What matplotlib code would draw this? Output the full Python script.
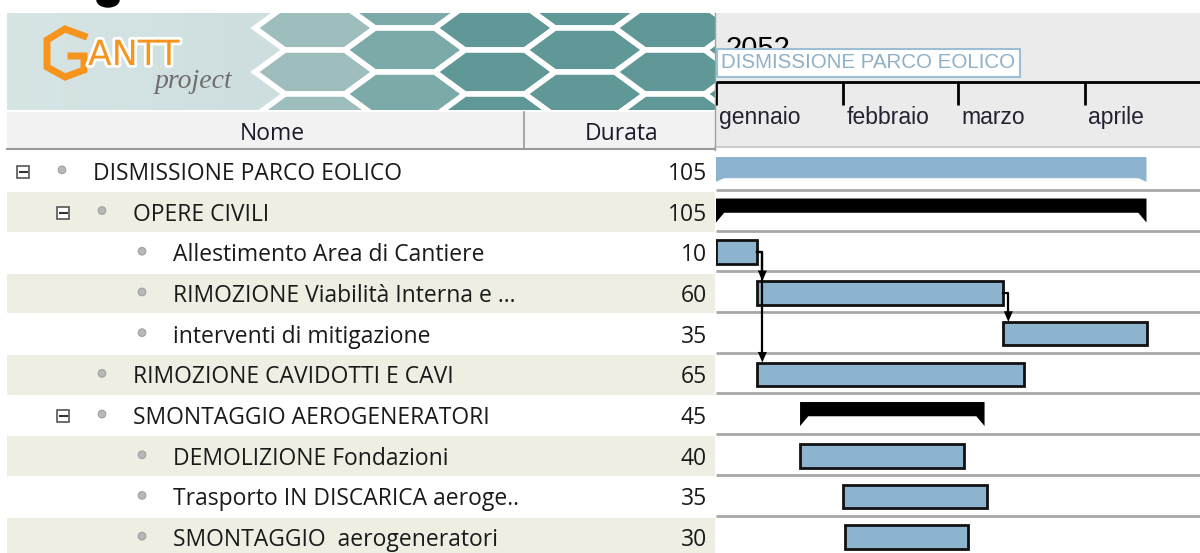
import numpy as np
import matplotlib.pyplot as plt
from matplotlib.patches import Rectangle, Polygon, Circle, Ellipse
from matplotlib.colors import LinearSegmentedColormap, to_rgb
import matplotlib.patheffects as pe

# ---- dati del progetto ----
nomi = ['DISMISSIONE PARCO EOLICO', 'OPERE CIVILI', 'Allestimento Area di Cantiere',
        'RIMOZIONE Viabilità Interna e ...', 'interventi di mitigazione',
        'RIMOZIONE CAVIDOTTI E CAVI', 'SMONTAGGIO AEROGENERATORI',
        'DEMOLIZIONE Fondazioni', 'Trasporto IN DISCARICA aeroge..',
        'SMONTAGGIO  aerogeneratori']
livelli = [0, 1, 2, 2, 2, 1, 1, 2, 2, 2]
espandibile = [True, True, False, False, False, False, True, False, False, False]
tipo = ['progetto', 'gruppo', 'task', 'task', 'task', 'task', 'gruppo', 'task', 'task', 'task']
durata = [105, 105, 10, 60, 35, 65, 45, 40, 35, 30]
inizio = [0, 0, 0, 10, 70, 10, 20.5, 20.5, 31, 31.5]   # giorni dal 1 gennaio
dipendenze = [(2, 3), (2, 5), (3, 4)]

mesi = ['gennaio', 'febbraio', 'marzo', 'aprile']
inizio_mese = [0, 31, 59, 90]
anno = '2052'

# ---- layout (pixel) ----
W, H = 1200, 553
X0 = 716          # inizio del diagramma
PX_DAY = 4.1
ROW_TOP = 150.5
ROW_H = 40.7
BLU = '#8DB4CE'
TFONT = ['Open Sans', 'DejaVu Sans']
GFONT = ['Liberation Sans', 'DejaVu Sans']
FS = 16.5

fig = plt.figure(figsize=(12, 5.53), dpi=100)
bg = fig.add_axes([0, 0, 1, 1])
bg.set_xlim(0, W)
bg.set_ylim(H, 0)
bg.axis('off')

# pezzo di titolo tagliato in alto
bg.add_patch(Ellipse((108, 0), 22, 14, color='black'))

# ---- logo GanttProject ----
logo = Rectangle((7, 13), 708, 97, facecolor='white', edgecolor='none')
bg.add_patch(logo)
cmap = LinearSegmentedColormap.from_list('lg', ['#D6E4E4', '#C2D6D6'])
im = bg.imshow(np.linspace(0, 1, 200).reshape(1, -1), cmap=cmap, aspect='auto',
               extent=(7, 715, 110, 13), zorder=1)
im.set_clip_path(logo)
c_light = np.array(to_rgb('#B3CCCB'))
c_dark = np.array(to_rgb('#5F9896'))
hw, hh = 120, 44
for c in range(-1, 9):
    for r in range(-1, 4):
        cx = 225 + c * 0.75 * hw
        cy = 6 + r * hh + (c % 2) * hh / 2
        if cx < 255 + 0.45 * (cy - 13):
            continue
        t = np.clip((cx - 255) / 230, 0, 1)
        col = c_light * (1 - t) + c_dark * t
        pts = [(cx - hw / 2, cy), (cx - hw / 4, cy - hh / 2), (cx + hw / 4, cy - hh / 2),
               (cx + hw / 2, cy), (cx + hw / 4, cy + hh / 2), (cx - hw / 4, cy + hh / 2)]
        hx = Polygon(pts, closed=True, facecolor=col, edgecolor='white', lw=4, zorder=2)
        bg.add_patch(hx)
        hx.set_clip_path(logo)

orange = '#F7941D'
stroke = [pe.withStroke(linewidth=4, foreground='white')]
bg.plot([84, 65, 47, 47, 65, 84, 84, 71], [36, 29, 40, 67, 77, 70, 56, 56],
        color=orange, lw=5, solid_joinstyle='miter', zorder=3, path_effects=stroke)
bg.text(88, 65, 'ANTT', color=orange, fontsize=25, family=['DejaVu Sans'],
        va='baseline', zorder=3, path_effects=stroke)
bg.text(155, 88, 'project', color='#6E6E6E', fontsize=20, style='italic',
        family=['Liberation Serif', 'DejaVu Serif'], va='baseline', zorder=3)

# ---- intestazione tabella ----
bg.add_patch(Rectangle((7, 112), 708, 36, facecolor='#F2F2F2', edgecolor='none'))
bg.plot([7, 715], [148.5, 148.5], color='#9A9A9A', lw=1.5)
bg.plot([524, 524], [112, 148], color='#9A9A9A', lw=1.2)
bg.text(272, 134, 'Nome', ha='center', va='center', fontsize=FS, family=TFONT, color='#1A1A2A')
bg.text(622, 134, 'Durata', ha='center', va='center', fontsize=FS, family=TFONT, color='#1A1A2A')

# ---- righe della tabella ----
for i, (nome, liv) in enumerate(zip(nomi, livelli)):
    ytop = ROW_TOP + ROW_H * i
    yc = ytop + ROW_H / 2
    if i % 2 == 1:
        bg.add_patch(Rectangle((7, ytop + 1), 708, ROW_H - 1, facecolor='#EEEEE2', edgecolor='none'))
    if espandibile[i]:
        bx = 23 + 40 * liv
        bg.add_patch(Rectangle((bx - 6, yc - 5), 12, 12, facecolor='white', edgecolor='#555555', lw=1.2))
        bg.plot([bx - 3.5, bx + 3.5], [yc + 1, yc + 1], color='#333333', lw=1.5)
    bg.add_patch(Circle((62 + 40 * liv, yc - 1), 3.8, facecolor='#B8B8B8', edgecolor='#A0A0A0', lw=0.8))
    bg.text(93 + 40 * liv, yc + 3, nome, va='center', fontsize=FS, family=TFONT, color='#1A1A1A')
    bg.text(707, yc + 3, str(durata[i]), va='center', ha='right', fontsize=FS, family=TFONT, color='#1A1A1A')

# ---- intestazione del diagramma ----
bg.add_patch(Rectangle((715, 13), W - 715, 134, facecolor='#EBEBEB', edgecolor='none'))
bg.plot([715, W], [147, 147], color='#CCCCCC', lw=1.5)
bg.plot([714.5, 714.5], [13, 150], color='#A0A0A0', lw=1)

xmax = (W - X0) / PX_DAY
hd = fig.add_axes([X0 / W, 1 - 147 / H, (W - X0) / W, (147 - 13) / H])
hd.set_xlim(0, xmax)
hd.set_ylim(147, 13)
hd.axis('off')
hd.text(2.2, 57, anno, fontsize=21, family=GFONT, va='baseline', zorder=1)
hd.text(1.3, 63, 'DISMISSIONE PARCO EOLICO', fontsize=14.8, family=GFONT, color='#8FB0C8',
        va='center', zorder=3,
        bbox=dict(boxstyle='square,pad=0.22', facecolor='white', edgecolor='#9DBFD6', lw=1.5))
hd.hlines(82, 0, xmax, color='black', lw=2)
hd.vlines(inizio_mese, 82, 105, color='black', lw=2)
for m, nm in zip(inizio_mese, mesi):
    hd.text(m + 0.8, 117.5, nm, fontsize=16.5, family=GFONT, va='center', color='#222233')

# ---- diagramma di Gantt ----
gx = fig.add_axes([X0 / W, 0, (W - X0) / W, (H - ROW_TOP) / H])
gx.set_xlim(0, xmax)
gx.set_ylim(-0.5 + (H - ROW_TOP) / ROW_H, -0.5)
gx.axis('off')

rows = np.arange(len(nomi))
gx.hlines(rows + 0.47, 0, xmax, color='#A8A8A8', lw=2, zorder=1)

task_idx = [i for i in rows if tipo[i] == 'task']
gx.barh(task_idx, [durata[i] for i in task_idx], left=[inizio[i] for i in task_idx],
        height=0.58, color=BLU, edgecolor='#111111', linewidth=2, zorder=2)

tw = 2.0
for i in rows:
    if tipo[i] == 'task':
        continue
    s, e = inizio[i], inizio[i] + durata[i]
    if tipo[i] == 'progetto':
        top, bot, tip, col = i - 0.34, i + 0.18, i + 0.27, BLU
    else:
        top, bot, tip, col = i - 0.32, i + 0.03, i + 0.27, 'black'
    pts = [(s, top), (e, top), (e, tip), (e - tw, bot), (s + tw, bot), (s, tip)]
    gx.add_patch(Polygon(pts, closed=True, facecolor=col, edgecolor='none', zorder=2))

for a, b in dipendenze:
    xe = inizio[a] + durata[a]
    xs = xe + 1.3
    ytgt = b - 0.29
    gx.plot([xe, xs, xs], [a, a, ytgt - 0.2], color='black', lw=1.6, zorder=3)
    gx.add_patch(Polygon([(xs - 1.1, ytgt - 0.26), (xs + 1.1, ytgt - 0.26), (xs, ytgt)],
                         closed=True, facecolor='black', edgecolor='none', zorder=3))

fig.savefig('out.png', dpi=100)
